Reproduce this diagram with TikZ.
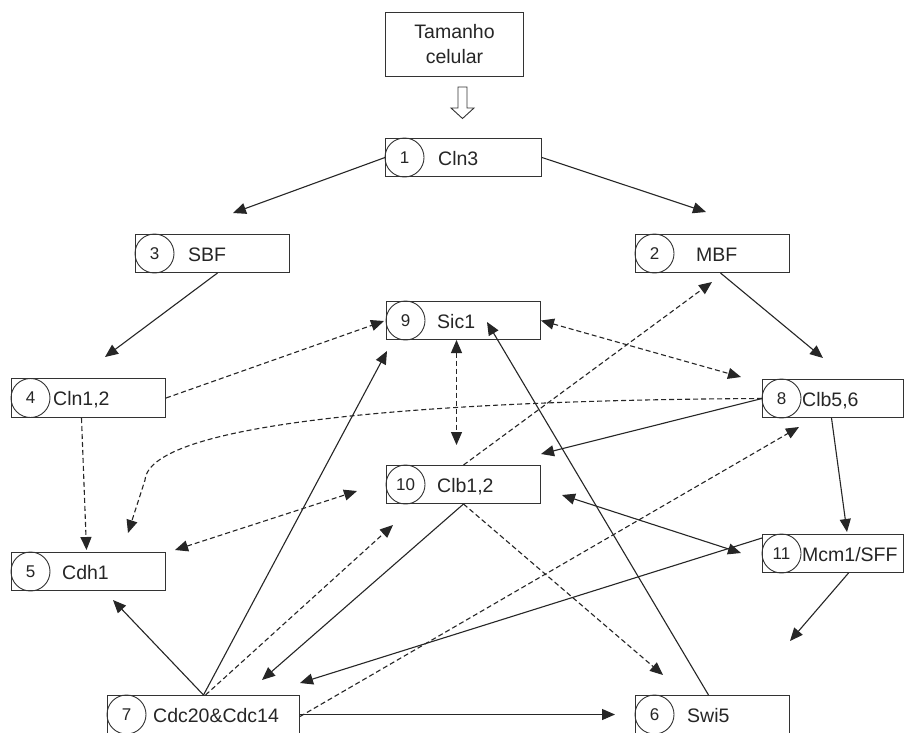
\documentclass[tikz,border=0pt]{standalone}
\usepackage{fontspec}
\setmainfont{Liberation Sans}
\usetikzlibrary{arrows.meta}
\begin{document}
\begin{tikzpicture}[x=1pt,y=-1pt,
  box/.style={draw=black!80, line width=1pt, minimum width=154pt, minimum height=38pt,
              inner sep=0pt, anchor=north west},
  num/.style={draw=black!80, line width=0.9pt, circle, minimum size=39pt, inner sep=0pt,
              text=black!85, font=\fontsize{17}{17}\selectfont},
  lbl/.style={anchor=base west, inner sep=0pt, text=black!85, font=\fontsize{19.5}{22}\selectfont},
  link/.style={line width=1.1pt, draw=black!85, -{Triangle[length=13pt,width=11pt]}},
  dlink/.style={link, dash pattern=on 5pt off 3pt},
  both/.style={{Triangle[length=13pt,width=11pt]}-{Triangle[length=13pt,width=11pt]}}
]
\fill[white] (0,0) rectangle (904,732);
\useasboundingbox (0,0) rectangle (904,732);

% input box and hollow arrow
\node[box, minimum width=138pt, minimum height=64pt, align=center, text=black!85,
      font=\fontsize{19.5}{25}\selectfont] (T) at (385,12) {Tamanho\\celular};
\draw[line width=0.9pt, draw=black!80, fill=white]
  (458,87) -- (467,87) -- (467,108) -- (474,108) -- (462.5,118.5) -- (451,108) -- (458,108) -- cycle;

% boxes
\node[box, minimum width=156pt] (n1) at (385,138) {};
\node[box] (n3) at (135,234) {};
\node[box] (n2) at (635,234) {};
\node[box] (n9) at (386,301) {};
\node[box, minimum height=39pt] (n4) at (11,378) {};
\node[box, minimum width=141pt] (n8) at (762,379) {};
\node[box] (n10) at (386,465) {};
\node[box] (n5) at (11,552) {};
\node[box, minimum width=141pt] (n11) at (762,534) {};
\node[box, minimum width=192pt] (n7) at (107,695) {};
\node[box] (n6) at (635,695) {};

% numbered circles
\node[num] at ([xshift=19.5pt]n1.west) {1};
\node[num] at ([xshift=19.5pt]n3.west) {3};
\node[num] at ([xshift=19.5pt]n2.west) {2};
\node[num] at ([xshift=19.5pt]n9.west) {9};
\node[num] at ([xshift=19.5pt]n4.west) {4};
\node[num] at ([xshift=19.5pt]n8.west) {8};
\node[num] at ([xshift=19.5pt]n10.west) {10};
\node[num] at ([xshift=19.5pt]n5.west) {5};
\node[num] at ([xshift=19.5pt]n11.west) {11};
\node[num] at ([xshift=19.5pt]n7.west) {7};
\node[num] at ([xshift=19.5pt]n6.west) {6};

% names
\node[lbl] at ([xshift=53pt,yshift=-7.5pt]n1.west) {Cln3};
\node[lbl] at ([xshift=53pt,yshift=-7.5pt]n3.west) {SBF};
\node[lbl] at ([xshift=61pt,yshift=-7.5pt]n2.west) {MBF};
\node[lbl] at ([xshift=51pt,yshift=-7.5pt]n9.west) {Sic1};
\node[lbl] at ([xshift=42pt,yshift=-7.5pt]n4.west) {Cln1,2};
\node[lbl] at ([xshift=40pt,yshift=-7.5pt]n8.west) {Clb5,6};
\node[lbl] at ([xshift=51pt,yshift=-7.5pt]n10.west) {Clb1,2};
\node[lbl] at ([xshift=51pt,yshift=-7.5pt]n5.west) {Cdh1};
\node[lbl] at ([xshift=40pt,yshift=-7.5pt]n11.west) {Mcm1/SFF};
\node[lbl] at ([xshift=46pt,yshift=-7.5pt]n7.west) {Cdc20\&Cdc14};
\node[lbl] at ([xshift=52pt,yshift=-7.5pt]n6.west) {Swi5};

% arrow end points
\coordinate (tSBF) at (233,213);
\coordinate (tMBF) at (706,212);
\coordinate (tCln12) at (105,357);
\coordinate (tClb56a) at (823,358);
\coordinate (tSic1a) at (384,321);
\coordinate (tClb56b) at (741,377);
\coordinate (tCdh1a) at (128,533);
\coordinate (tClb12a) at (541,454);
\coordinate (tMcm1a) at (847,532);
\coordinate (tMBFb) at (712,282);
\coordinate (tCdh1b) at (175,550);
\coordinate (tClb12b) at (357,491);
\coordinate (tClb12c) at (562,495);
\coordinate (tMcm1b) at (741,553);
\coordinate (tCdc20a) at (262,680);
\coordinate (tSwi5a) at (663,675);
\coordinate (tCdc20b) at (300,683);
\coordinate (sMcm1) at (762,538);
\coordinate (tSwi5b) at (790,641);
\coordinate (tSic1b) at (487,322);
\coordinate (tSic1c) at (387,351);
\coordinate (tClb12d) at (393,525);
\coordinate (tCdh1c) at (113,600);
\coordinate (tClb56c) at (799,427);

% solid connectors
\draw[link] (n1.west) -- (tSBF);
\draw[link] (n1.east) -- (tMBF);
\draw[link] ([xshift=5pt]n3.south) -- (tCln12);
\draw[link] ([xshift=8pt]n2.south) -- (tClb56a);
\draw[link] (n8.west) -- (tClb12a);
\draw[link] ([xshift=-1.5pt]n8.south) -- (tMcm1a);
\draw[link, both] (tClb12c) -- (tMcm1b);
\draw[link] (n10.south) -- (tCdc20a);
\draw[link] (sMcm1) -- (tCdc20b);
\draw[link] ([xshift=15.5pt]n11.south) -- (tSwi5b);
\draw[link] ([xshift=-4pt]n6.north) -- (tSic1b);
\draw[link] (n7.north) -- (tSic1c);
\draw[link] (n7.north) -- (tCdh1c);
\draw[link] (n7.east) -- ([xshift=-20pt]n6.west);

% dashed connectors
\draw[dlink] (n4.east) -- (tSic1a);
\draw[dlink, both] (n9.east) -- (tClb56b);
\draw[dlink, both] ([xshift=-7pt]n9.south) -- ([xshift=-7pt,yshift=20pt]n10.north);
\draw[dlink] ([xshift=-7pt]n4.south) -- ([xshift=-2pt,yshift=2pt]n5.north);
\draw[dlink] (n8.west) .. controls (450,400) and (150,420) .. (145,480) -- (tCdh1a);
\draw[dlink] (n10.north) -- (tMBFb);
\draw[dlink, both] (tCdh1b) -- (tClb12b);
\draw[dlink] (n10.south) -- (tSwi5a);
\draw[dlink] ([xshift=2pt]n7.north) -- (tClb12d);
\draw[dlink] ([yshift=-2pt]n7.east) -- (tClb56c);
\end{tikzpicture}
\end{document}
